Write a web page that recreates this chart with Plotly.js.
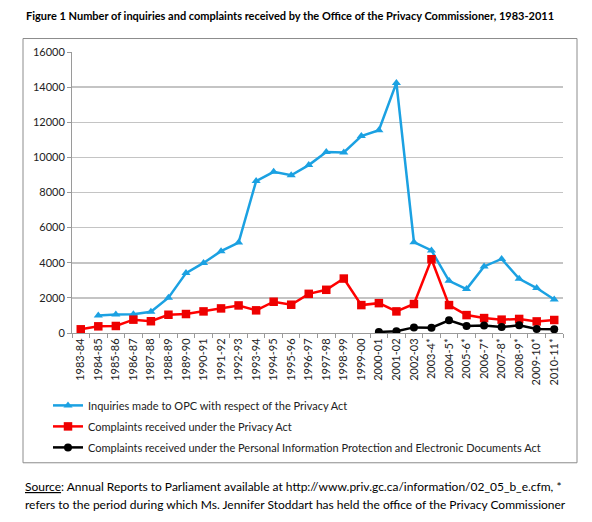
<!DOCTYPE html>
<html>
<head>
<meta charset="utf-8">
<script src="https://cdn.plot.ly/plotly-3.0.1.min.js"></script>
<style>html,body{margin:0;padding:0;background:#fff;}#chart{width:592px;height:522px;}</style>
</head>
<body>
<div id="chart"></div>
<script>
const years = ["1983-84","1984-85","1985-86","1986-87","1987-88","1988-89","1989-90","1990-91","1991-92","1992-93","1993-94","1994-95","1995-96","1996-97","1997-98","1998-99","1999-00","2000-01","2001-02","2002-03","2003-4*","2004-5*","2005-6*","2006-7*","2007-8*","2008-9*","2009-10*","2010-11*"];
const inquiriesPA = [null,1000,1060,1070,1210,2010,3410,3990,4660,5150,8650,9180,8980,9560,10300,10280,11210,11550,14240,5170,4700,2970,2500,3790,4220,3090,2560,1910];
const complaintsPA = [210,380,400,760,670,1040,1080,1230,1400,1570,1290,1780,1610,2230,2460,3100,1590,1700,1230,1650,4200,1590,1020,850,760,800,660,740];
const complaintsPIPEDA = [null,null,null,null,null,null,null,null,null,null,null,null,null,null,null,null,null,60,100,320,300,720,400,420,340,440,230,210];
const yTicks = [0,2000,4000,6000,8000,10000,12000,14000,16000];

const names = ["Inquiries made to OPC with respect of the Privacy Act","Complaints received under the Privacy Act","Complaints received under the Personal Information Protection and Electronic Documents Act"];
const FONT = "Lato, 'Open Sans', sans-serif";

const traces = [
  {x: years, y: inquiriesPA, name: names[0], legendgroup:"a", mode:"lines+markers", connectgaps:false,
   line:{color:"#1ba1e2", width:2.5}, marker:{symbol:"triangle-up", size:8, color:"#1ba1e2"}},
  {x: years, y: complaintsPA, name: names[1], legendgroup:"b", mode:"lines+markers",
   line:{color:"#ff0000", width:2.5}, marker:{symbol:"square", size:8.5, color:"#ee0000"}},
  {x: years, y: complaintsPIPEDA, name: names[2], legendgroup:"c", mode:"lines+markers",
   line:{color:"#000000", width:2.5}, marker:{symbol:"circle", size:8, color:"#000000"}}
];

const W = 491, H = 281.5, L = 72, T = 333;
const px = v => (v - L) / W;
const py = v => (T - v) / H;

const layout = {
  width: 592, height: 522,
  margin: {l: 72, r: 29, t: 51.5, b: 189},
  paper_bgcolor: "#fff", plot_bgcolor: "#fff",
  font: {family: FONT, color: "#222", size: 11},
  showlegend: true,
  legend: {x: px(48), y: py(391), xanchor: "left", yanchor: "top", orientation: "v",
    traceorder: "grouped", tracegroupgap: 2, font: {size: 11, family: FONT, color: "#222"},
    bgcolor: "rgba(0,0,0,0)"},
  xaxis: {type: "category", range: [-0.5, 27.5], tickangle: -90, tickson: "boundaries",
    ticks: "outside", ticklen: 4, tickcolor: "#9a9a9a", showline: true, linecolor: "#9a9a9a",
    linewidth: 1, showgrid: false, tickfont: {size: 11, color: "#222"}, fixedrange: true},
  yaxis: {range: [0, 16000], tickvals: yTicks, ticktext: yTicks.map(String), ticks: "outside", ticklen: 4,
    tickcolor: "#9a9a9a", showline: true, linecolor: "#9a9a9a", linewidth: 1,
    gridcolor: "#c4c4c4", gridwidth: 1.5, zeroline: false, tickfont: {size: 11, color: "#222"}, fixedrange: true},
  shapes: [
    {type: "rect", xref: "paper", yref: "paper", x0: px(23), x1: px(577), y0: py(463), y1: py(38),
     line: {color: "#8c8c8c", width: 1}, layer: "below"}
  ],
  annotations: [
    {xref: "paper", yref: "paper", x: px(24), y: py(15), xanchor: "left", yanchor: "middle", showarrow: false,
     text: "<b>Figure 1 Number of inquiries and complaints received by the Office of the Privacy Commissioner, 1983-2011</b>",
     font: {size: 11, family: FONT, color: "#000"}},
    {xref: "paper", yref: "paper", x: px(23), y: py(487), xanchor: "left", yanchor: "middle", showarrow: false,
     text: "<u>Source</u>: Annual Reports to Parliament available at http://www.priv.gc.ca/information/02_05_b_e.cfm, *",
     font: {size: 12, family: FONT, color: "#000"}},
    {xref: "paper", yref: "paper", x: px(23), y: py(505), xanchor: "left", yanchor: "middle", showarrow: false,
     text: "refers to the period during which Ms. Jennifer Stoddart has held the office of the Privacy Commissioner",
     font: {size: 12, family: FONT, color: "#000"}}
  ]
};

Plotly.newPlot("chart", traces, layout, {displayModeBar: false, staticPlot: true});
</script>
</body>
</html>
